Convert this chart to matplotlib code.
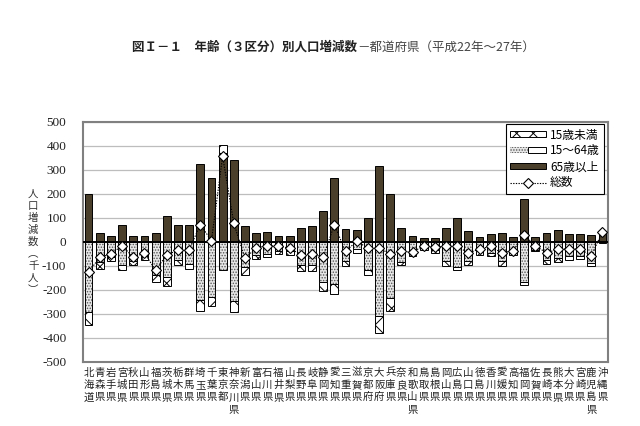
import matplotlib
matplotlib.use("Agg")
import matplotlib.pyplot as plt
import numpy as np
from matplotlib.patches import Patch
from matplotlib.lines import Line2D
from matplotlib.legend_handler import HandlerTuple

plt.rcParams['font.family'] = ['Noto Sans CJK JP', 'DejaVu Sans']
plt.rcParams['axes.unicode_minus'] = False
plt.rcParams['hatch.linewidth'] = 0.7

prefectures = ["北海道", "青森県", "岩手県", "宮城県", "秋田県", "山形県", "福島県", "茨城県", "栃木県", "群馬県",
               "埼玉県", "千葉県", "東京都", "神奈川県", "新潟県", "富山県", "石川県", "福井県", "山梨県", "長野県",
               "岐阜県", "静岡県", "愛知県", "三重県", "滋賀県", "京都府", "大阪府", "兵庫県", "奈良県", "和歌山県",
               "鳥取県", "島根県", "岡山県", "広島県", "山口県", "徳島県", "香川県", "愛媛県", "高知県", "福岡県",
               "佐賀県", "長崎県", "熊本県", "大分県", "宮崎県", "鹿児島県", "沖縄県"]

under15 = [-51, -28, -17, -22, -16, -14, -31, -38, -20, -22, -43, -39, 35, -46, -32, -16, -14, -13, -14, -28,
           -28, -35, -42, -20, -17, -24, -72, -56, -11, -14, -10, -14, -19, -10, -16, -14, -14, -20, -14, -13,
           -7, -16, -16, -14, -12, -14, 0]
age15_64 = [-293, -83, -64, -94, -78, -60, -136, -147, -76, -90, -243, -229, -118, -247, -104, -53, -50, -36, -39, -94,
            -94, -168, -175, -81, -30, -115, -307, -233, -83, -46, -22, -32, -81, -105, -81, -39, -46, -81, -39, -168,
            -32, -74, -67, -60, -57, -87, -3]
over65 = [200, 39, 26, 69, 24, 24, 39, 107, 69, 69, 326, 267, 371, 340, 65, 39, 43, 24, 24, 57,
          68, 131, 268, 54, 49, 100, 318, 200, 57, 26, 17, 17, 57, 100, 44, 22, 33, 39, 19, 181,
          21, 36, 49, 35, 33, 31, 33]
total = [-125, -64, -50, -15, -64, -46, -118, -53, -35, -32, 72, 6, 357, 78, -68, -25, -15, -18, -25, -53,
         -49, -64, 72, -39, 3, -25, -25, -50, -39, -43, -15, -22, -18, -18, -46, -29, -18, -46, -36, 28,
         -15, -46, -29, -29, -29, -57, 42]

labels_series = ["15歳未満", "15～64歳", "65歳以上", "総数"]

dark = '#4a3f2b'
dot_face = '#e6e6e6'
dot_col = '#555555'
fig = plt.figure(figsize=(6.4, 4.26), dpi=100)
ax = fig.add_axes([83/640, 1-362/426, 525/640, 240/426])

x = np.arange(len(prefectures))
w = 0.7
pos = np.zeros(len(x))
neg = np.zeros(len(x))

def stack(vals):
    vals = np.asarray(vals, dtype=float)
    bottoms = np.where(vals >= 0, pos, neg)
    pos[:] = pos + np.where(vals >= 0, vals, 0)
    neg[:] = neg + np.where(vals < 0, vals, 0)
    return vals, bottoms

# 15-64 (dotted)
v, b = stack(age15_64)
ax.bar(x, v, w, bottom=b, color=dot_face, edgecolor=dot_col, hatch='......', linewidth=0.01, zorder=3)
ax.bar(x, v, w, bottom=b, fill=False, edgecolor='black', linewidth=0.7, zorder=3)
# 65+ (dark)
v, b = stack(over65)
ax.bar(x, v, w, bottom=b, color=dark, edgecolor='black', linewidth=0.7, zorder=3)
# under 15 (crosshatch)
v, b = stack(under15)
ax.bar(x, v, w, bottom=b, color='white', edgecolor='black', hatch='xx', linewidth=0.7, zorder=3)

ax.plot(x, total, linestyle=(0, (1.2, 1.2)), color='black', linewidth=0.8,
        marker='D', markersize=5, markerfacecolor='white', markeredgecolor='black',
        markeredgewidth=0.8, zorder=4)

ax.axhline(0, color='black', linewidth=1.4, zorder=3.5)
ax.set_ylim(-500, 500)
ax.set_xlim(-0.5, len(x) - 0.5)
ax.set_yticks(np.arange(-500, 501, 100))
ax.yaxis.grid(True, color='#bdbdbd', linewidth=0.9, zorder=0)
ax.set_axisbelow(True)
for s in ax.spines.values():
    s.set_color('#808080')
    s.set_linewidth(1.5)
ax.tick_params(axis='y', length=0, pad=12)
for t in ax.get_yticklabels():
    t.set_fontfamily('Liberation Serif')
    t.set_fontsize(9.5)
    t.set_color('#222222')

ax.set_xticks(x)
ax.set_xticklabels(['\n'.join(p) for p in prefectures], fontsize=7.5, linespacing=1.3,
                   va='top', color='#222222')
ax.tick_params(axis='x', length=0, pad=4)

# legend
h1 = Patch(facecolor='white', edgecolor='black', hatch='xx', linewidth=0.7)
h2a = Patch(facecolor=dot_face, edgecolor=dot_col, hatch='......', linewidth=0.01)
h2b = Patch(fill=False, edgecolor='black', linewidth=0.7)
h3 = Patch(facecolor=dark, edgecolor='black', linewidth=0.7)
h4 = Line2D([], [], linestyle=(0, (1.2, 1.2)), color='black', linewidth=0.8, marker='D',
            markersize=5, markerfacecolor='white', markeredgecolor='black', markeredgewidth=0.8)
leg = ax.legend([h1, (h2a, h2b), h3, h4], labels_series,
                handler_map={tuple: HandlerTuple(ndivide=None, pad=0)},
                loc='upper right', bbox_to_anchor=(0.992, 0.99), borderaxespad=0,
                fancybox=False, framealpha=1, edgecolor='black', fontsize=8.5,
                handlelength=3.1, handleheight=0.45, labelspacing=0.25, handletextpad=0.3,
                borderpad=0.35)
leg.get_frame().set_linewidth(0.8)
leg.set_zorder(6)

fig.text(0.052, 1-242/426, '\n'.join('人口増減数︵千人︶'), ha='center', va='center',
         fontsize=7.5, linespacing=1.25, color='#333333')

fig.text(357/640, 1-47/426, '図Ｉ－１　年齢（３区分）別人口増減数', ha='right', va='center',
         fontsize=9, fontweight='bold', color='#222222')
fig.text(357/640, 1-47/426, '－都道府県（平成22年～27年）', ha='left', va='center',
         fontsize=9, color='#444444')

fig.savefig('out.png', dpi=100)
